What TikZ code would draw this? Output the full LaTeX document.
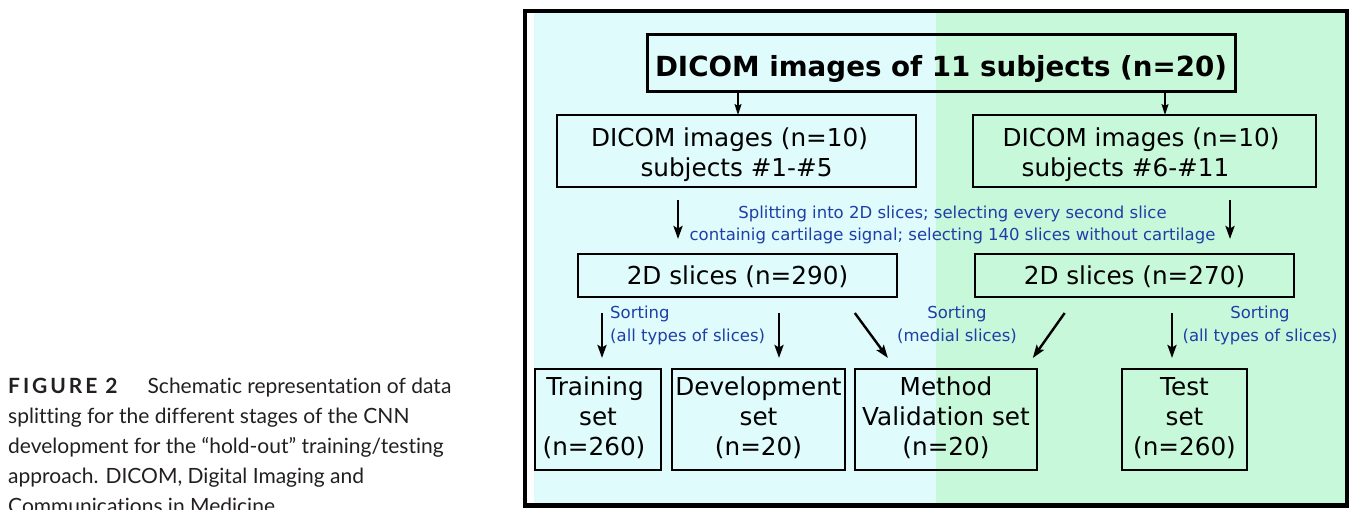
\documentclass[tikz,border=0pt]{standalone}
\usepackage{fontspec}
\setmainfont{DejaVu Sans}
\newfontfamily\capfont[Ligatures={NoCommon}]{Lato}
\usetikzlibrary{arrows.meta,calc}
\definecolor{bgcyan}{RGB}{223,251,251}
\definecolor{bggreen}{RGB}{200,248,218}
\definecolor{lblblue}{RGB}{30,62,168}
\newcommand\fsz[2]{\fontsize{#1}{#2}\selectfont}
\newcommand\tst[1]{\rule{0pt}{#1pt}}
\newcommand\bst[1]{\rule[-#1pt]{0pt}{0pt}}
\begin{document}
\begin{tikzpicture}[x=1pt,y=-1pt,
  box/.style={draw=black,line width=2pt,inner sep=0pt,outer sep=0pt,align=center,font=\fsz{24.7}{30}},
  lbl/.style={inner sep=0pt,text=lblblue,font=\fsz{16.5}{22}},
  arr/.style={line width=2.8pt,-{Stealth[length=13pt,width=9pt,inset=2.5pt]}},
  thinarr/.style={line width=1.5pt,-{Stealth[length=11pt,width=7pt,inset=2pt]}}]
\useasboundingbox (0,0) rectangle (1349,510);
% backgrounds
\fill[white] (527,13) rectangle (534,503);
\fill[bgcyan] (534,13) rectangle (936,503);
\fill[bggreen] (936,13) rectangle (1345.5,503);
\draw[line width=4.2pt] (525,11) rectangle (1347.5,505.5);
% caption
\node[anchor=north west,align=left,inner sep=0pt,text={rgb,255:red,35;green,31;blue,32},font=\capfont\fsz{21}{30}] (caption) at (8,373)
 {\tst{20}{\bfseries\addfontfeature{LetterSpace=14}FIGURE 2}\hspace{30pt}Schematic representation of data\\
  splitting for the different stages of the CNN\\
  development for the “hold-out” training/testing\\
  approach. DICOM, Digital Imaging and\\
  Communications in Medicine};
% boxes
\node[box,line width=3pt,minimum width=588pt,minimum height=57pt,text height=33pt,text depth=6pt,font=\bfseries\fsz{27.7}{30}] (top) at (941,63.5) {DICOM images of 11 subjects (n=20)};
\node[box,minimum width=359pt,minimum height=72pt] (L1) at (736.5,151) {\tst{29}DICOM images (n=10)\hspace*{14pt}\\subjects \#1-\#5\bst{7}};
\node[box,minimum width=343pt,minimum height=72pt] (R1) at (1144.5,151) {\tst{29}DICOM images (n=10)\hspace*{7pt}\\subjects \#6-\#11\hspace*{38pt}\bst{7}};
\node[box,minimum width=319pt,minimum height=43pt,text height=25pt,text depth=6pt] (L2) at (737.5,275.5) {2D slices (n=290)};
\node[box,minimum width=319pt,minimum height=43pt,text height=25pt,text depth=6pt] (R2) at (1134.5,275.5) {2D slices (n=270)};
\node[box,minimum width=126pt,minimum height=101pt] (train) at (598,419.5) {\tst{19}Training\hspace*{6pt}\\set\hspace*{8pt}\\(n=260)\hspace*{8pt}\bst{8}};
\node[box,minimum width=173pt,minimum height=101pt] (dev) at (758.5,419.5) {\tst{19}Development\\set\\(n=20)\bst{8}};
\node[box,line width=2.8pt,minimum width=182pt,minimum height=101pt] (meth) at (946,419.5) {\tst{19}Method\\Validation set\\(n=20)\bst{8}};
\node[box,minimum width=125pt,minimum height=101pt] (test) at (1184.5,419.5) {\tst{19}Test\\set\\(n=260)\bst{8}};
% labels
\node[lbl,anchor=north,align=center] (split) at (952.5,204) {\tst{14}Splitting into 2D slices; selecting every second slice\\containig cartilage signal; selecting 140 slices without cartilage};
\node[lbl,anchor=north west,align=left,font=\fsz{16.5}{23}] (sortA) at (610,304) {\tst{14}Sorting\\(all types of slices)};
\node[lbl,anchor=north,align=center,font=\fsz{16.5}{23}] (sortB) at (957,304) {\tst{14}Sorting\\(medial slices)};
\node[lbl,anchor=north,align=center,font=\fsz{16.5}{23}] (sortC) at (1260,304) {\tst{14}Sorting\\(all types of slices)};
% x positions of connectors
\coordinate (xa) at (738,0);
\coordinate (xb) at (1165,0);
\coordinate (xc) at (678,0);
\coordinate (xd) at (1230,0);
\coordinate (xe) at (602,0);
\coordinate (xf) at (779,0);
\coordinate (xg) at (1172,0);
\coordinate (d1s) at (843,0);
\coordinate (d1e) at (896,0);
\coordinate (d2s) at (1076,0);
\coordinate (d2e) at (1025,0);
% connectors
\draw[thinarr] (top.south -| xa) -- (L1.north -| xa);
\draw[thinarr] (top.south -| xb) -- (R1.north -| xb);
\draw[arr,shorten <=13pt,shorten >=15pt] (L1.south -| xc) -- (L2.north -| xc);
\draw[arr,shorten <=13pt,shorten >=15pt] (R1.south -| xd) -- (R2.north -| xd);
\draw[arr,shorten <=16pt,shorten >=11pt] (L2.south -| xe) -- (train.north -| xe);
\draw[arr,shorten <=16pt,shorten >=11pt] (L2.south -| xf) -- (dev.north -| xf);
\draw[arr,line width=2.4pt,shorten <=19.9pt,shorten >=13.7pt] (L2.south -| d1s) -- (meth.north -| d1e);
\draw[arr,line width=2.4pt,shorten <=19.6pt,shorten >=13.5pt] (R2.south -| d2s) -- (meth.north -| d2e);
\draw[arr,shorten <=16pt,shorten >=11pt] (R2.south -| xg) -- (test.north -| xg);
\end{tikzpicture}
\end{document}
